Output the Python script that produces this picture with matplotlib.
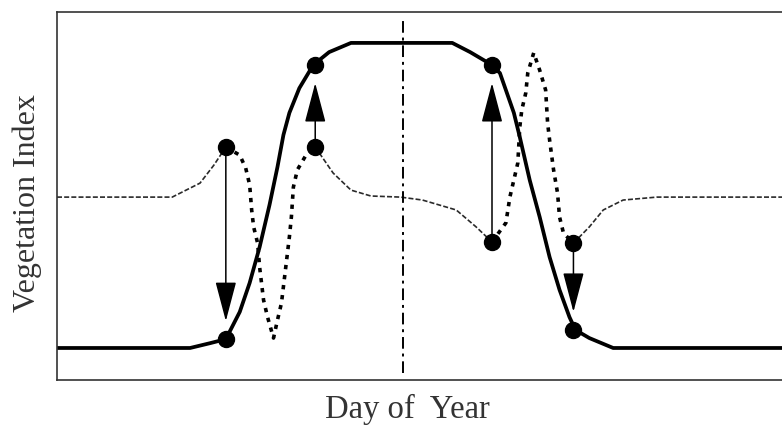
import matplotlib.pyplot as plt

# fitted seasonal curve (solid)
fit_day = [0, 67, 77, 85, 92, 97, 102, 107, 111, 114, 117, 122, 129, 137, 148,
           199, 208, 219, 223, 230, 233, 238, 243, 248, 253, 258, 261, 268, 280, 365]
fit_vi = [0.087, 0.087, 0.100, 0.111, 0.185, 0.264, 0.361, 0.476, 0.579, 0.666,
          0.726, 0.793, 0.856, 0.891, 0.916, 0.916, 0.891, 0.856, 0.834, 0.726,
          0.660, 0.543, 0.443, 0.334, 0.245, 0.171, 0.136, 0.114, 0.087, 0.087]

# background / noisy signal, split into calm parts and the two swings
calm_day = [[0, 58, 65, 72, 79, 85],
            [130, 139, 148, 158, 173, 184, 201, 211, 219],
            [260, 268, 275, 285, 302, 365]]
calm_vi = [[0.497, 0.497, 0.516, 0.535, 0.584, 0.633],
           [0.633, 0.5625, 0.516, 0.500, 0.497, 0.489, 0.462, 0.416, 0.375],
           [0.372, 0.416, 0.462, 0.489, 0.497, 0.497]]
swing_day = [[85, 92, 95, 97, 98, 99, 101, 102, 104, 106, 109, 111, 113, 115,
              117, 118, 119, 121, 126, 130],
             [219, 226, 228, 232, 233, 234, 236, 237, 240, 243, 246, 247, 248,
              250, 252, 253, 255, 260]]
swing_vi = [[0.633, 0.611, 0.576, 0.530, 0.462, 0.416, 0.372, 0.307, 0.217,
             0.171, 0.114, 0.163, 0.209, 0.299, 0.389, 0.443, 0.524, 0.571,
             0.617, 0.633],
            [0.375, 0.427, 0.497, 0.590, 0.688, 0.734, 0.780, 0.834, 0.889,
             0.842, 0.788, 0.698, 0.652, 0.571, 0.508, 0.443, 0.399, 0.372]]

# points moved from the noisy signal onto the fitted curve
pt_day = [85, 130, 219, 260]
pt_noisy = [0.633, 0.633, 0.375, 0.372]
pt_fit = [0.111, 0.856, 0.856, 0.136]

mid_day = 174

fig = plt.figure(figsize=(7.82, 4.26), dpi=100)
ax = fig.add_axes([57 / 782, 46 / 426, 1 - 57 / 782, 368 / 426])

for d, v in zip(calm_day, calm_vi):
    ax.plot(d, v, color='#2a2a2a', lw=1.2, ls=(0, (3, 1.3)))
for d, v in zip(swing_day, swing_vi):
    ax.plot(d, v, color='black', lw=2.6, ls=(0, (1.2, 1.6)))
ax.plot(fit_day, fit_vi, color='black', lw=2.7, solid_joinstyle='round')

ax.axvline(mid_day, ymin=0.02, ymax=0.98, color='black', lw=1.4,
           ls=(0, (6, 2.5, 1.5, 2.5)))

for d, a, b in zip(pt_day, pt_noisy, pt_fit):
    ax.annotate('', xy=(d, b), xytext=(d, a),
                arrowprops=dict(arrowstyle='-|>,head_length=1.25,head_width=0.33',
                                mutation_scale=20, lw=1.1, color='black',
                                shrinkA=0, shrinkB=13))
ax.plot(pt_day, pt_noisy, 'o', color='black', ms=11.5)
ax.plot(pt_day, pt_fit, 'o', color='black', ms=11.5)

ax.set_xlim(0, 365)
ax.set_ylim(0, 1)
ax.set_xticks([])
ax.set_yticks([])
ax.spines['right'].set_visible(False)
for s in ['left', 'top', 'bottom']:
    ax.spines[s].set_linewidth(1.2)
    ax.spines[s].set_color('#333333')

fig.text(407 / 782, 8 / 426, 'Day of  Year', ha='center', va='baseline',
         family='Liberation Serif', fontsize=23.5, color='#333333')
fig.text(27 / 782, 223 / 426, 'Vegetation Index', ha='center', va='center',
         rotation=90, family='Liberation Serif', fontsize=23, color='#333333')

fig.savefig('out.png', dpi=100)
